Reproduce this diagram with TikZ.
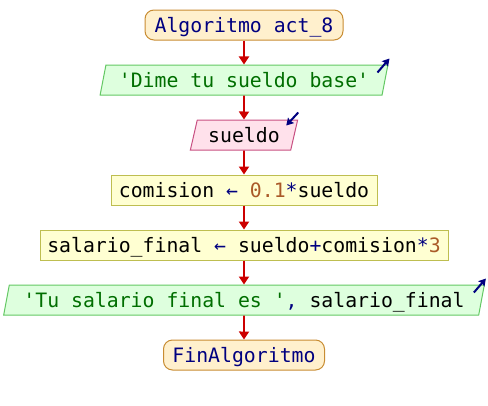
\documentclass[tikz,border=0pt]{standalone}
\usepackage{fontspec}
\newfontfamily\codefont{DejaVu Sans Mono}[Ligatures=TeXOff]
\usetikzlibrary{shapes.geometric,arrows.meta}

\definecolor{kw}{RGB}{0,0,128}
\definecolor{num}{RGB}{170,90,40}
\definecolor{strgreen}{RGB}{0,110,0}
\definecolor{flowred}{RGB}{204,0,0}
\definecolor{termfill}{RGB}{255,240,205}
\definecolor{termline}{RGB}{200,140,50}
\definecolor{outfill}{RGB}{222,255,222}
\definecolor{outline}{RGB}{100,200,100}
\definecolor{readfill}{RGB}{255,225,235}
\definecolor{readline}{RGB}{200,80,130}
\definecolor{asgfill}{RGB}{255,255,210}
\definecolor{asgline}{RGB}{190,190,80}

\begin{document}
\begin{tikzpicture}[x=1pt,y=-1pt,
  font=\codefont\fontsize{19.8}{22}\selectfont,
  base/.style={minimum height=30pt, inner sep=0pt, text height=14.5pt,
    text depth=0pt, line width=1pt},
  terminal/.style={base, draw=termline, fill=termfill, rounded corners=9pt, text=kw},
  assign/.style={base, rectangle, draw=asgline, fill=asgfill},
  io/.style={base, trapezium, trapezium left angle=70, trapezium right angle=110,
    trapezium stretches=true},
  writebox/.style={io, draw=outline, fill=outfill},
  readbox/.style={io, draw=readline, fill=readfill},
  flow/.style={draw=flowred, line width=1.8pt, -{Triangle[width=10pt,length=8pt]}},
  iomark/.style={draw=kw, line width=2pt, -{Stealth[length=7pt,width=8pt,inset=1pt]}}]

\useasboundingbox (0,0) rectangle (488,405);

% flowchart steps
\node[terminal, minimum width=198pt] (start) at (244,25) {Algoritmo act\_8};
\node[writebox, minimum width=288pt] (msg) at (244,80)
  {\textcolor{strgreen}{'Dime tu sueldo base'}};
\node[readbox, minimum width=108pt] (rd) at (244,135) {sueldo};
\node[assign, minimum width=266pt] (c1) at (244,190)
  {comision \textcolor{kw}{←} \textcolor{num}{0.1}\textcolor{kw}{*}sueldo};
\node[assign, minimum width=408pt] (c2) at (244,245)
  {salario\_final \textcolor{kw}{←} sueldo\textcolor{kw}{+}comision\textcolor{kw}{*}\textcolor{num}{3}};
\node[writebox, minimum width=481pt] (res) at (244,300)
  {\textcolor{strgreen}{'Tu salario final es '}\textcolor{kw}{,} salario\_final};
\node[terminal, minimum width=161pt] (fin) at (244,355) {FinAlgoritmo};

% control flow
\draw[flow] (start) -- (msg);
\draw[flow] (msg) -- (rd);
\draw[flow] (rd) -- (c1);
\draw[flow] (c1) -- (c2);
\draw[flow] (c2) -- (res);
\draw[flow] (res) -- (fin);

% output / input markers
\draw[iomark] ([shift={(-11,8)}]msg.top right corner) -- ([shift={(1,-6)}]msg.top right corner);
\draw[iomark] ([shift={(-11,8)}]res.top right corner) -- ([shift={(1,-6)}]res.top right corner);
\draw[iomark] ([shift={(0,-7)}]rd.top right corner) -- ([shift={(-12,6)}]rd.top right corner);
\end{tikzpicture}
\end{document}
